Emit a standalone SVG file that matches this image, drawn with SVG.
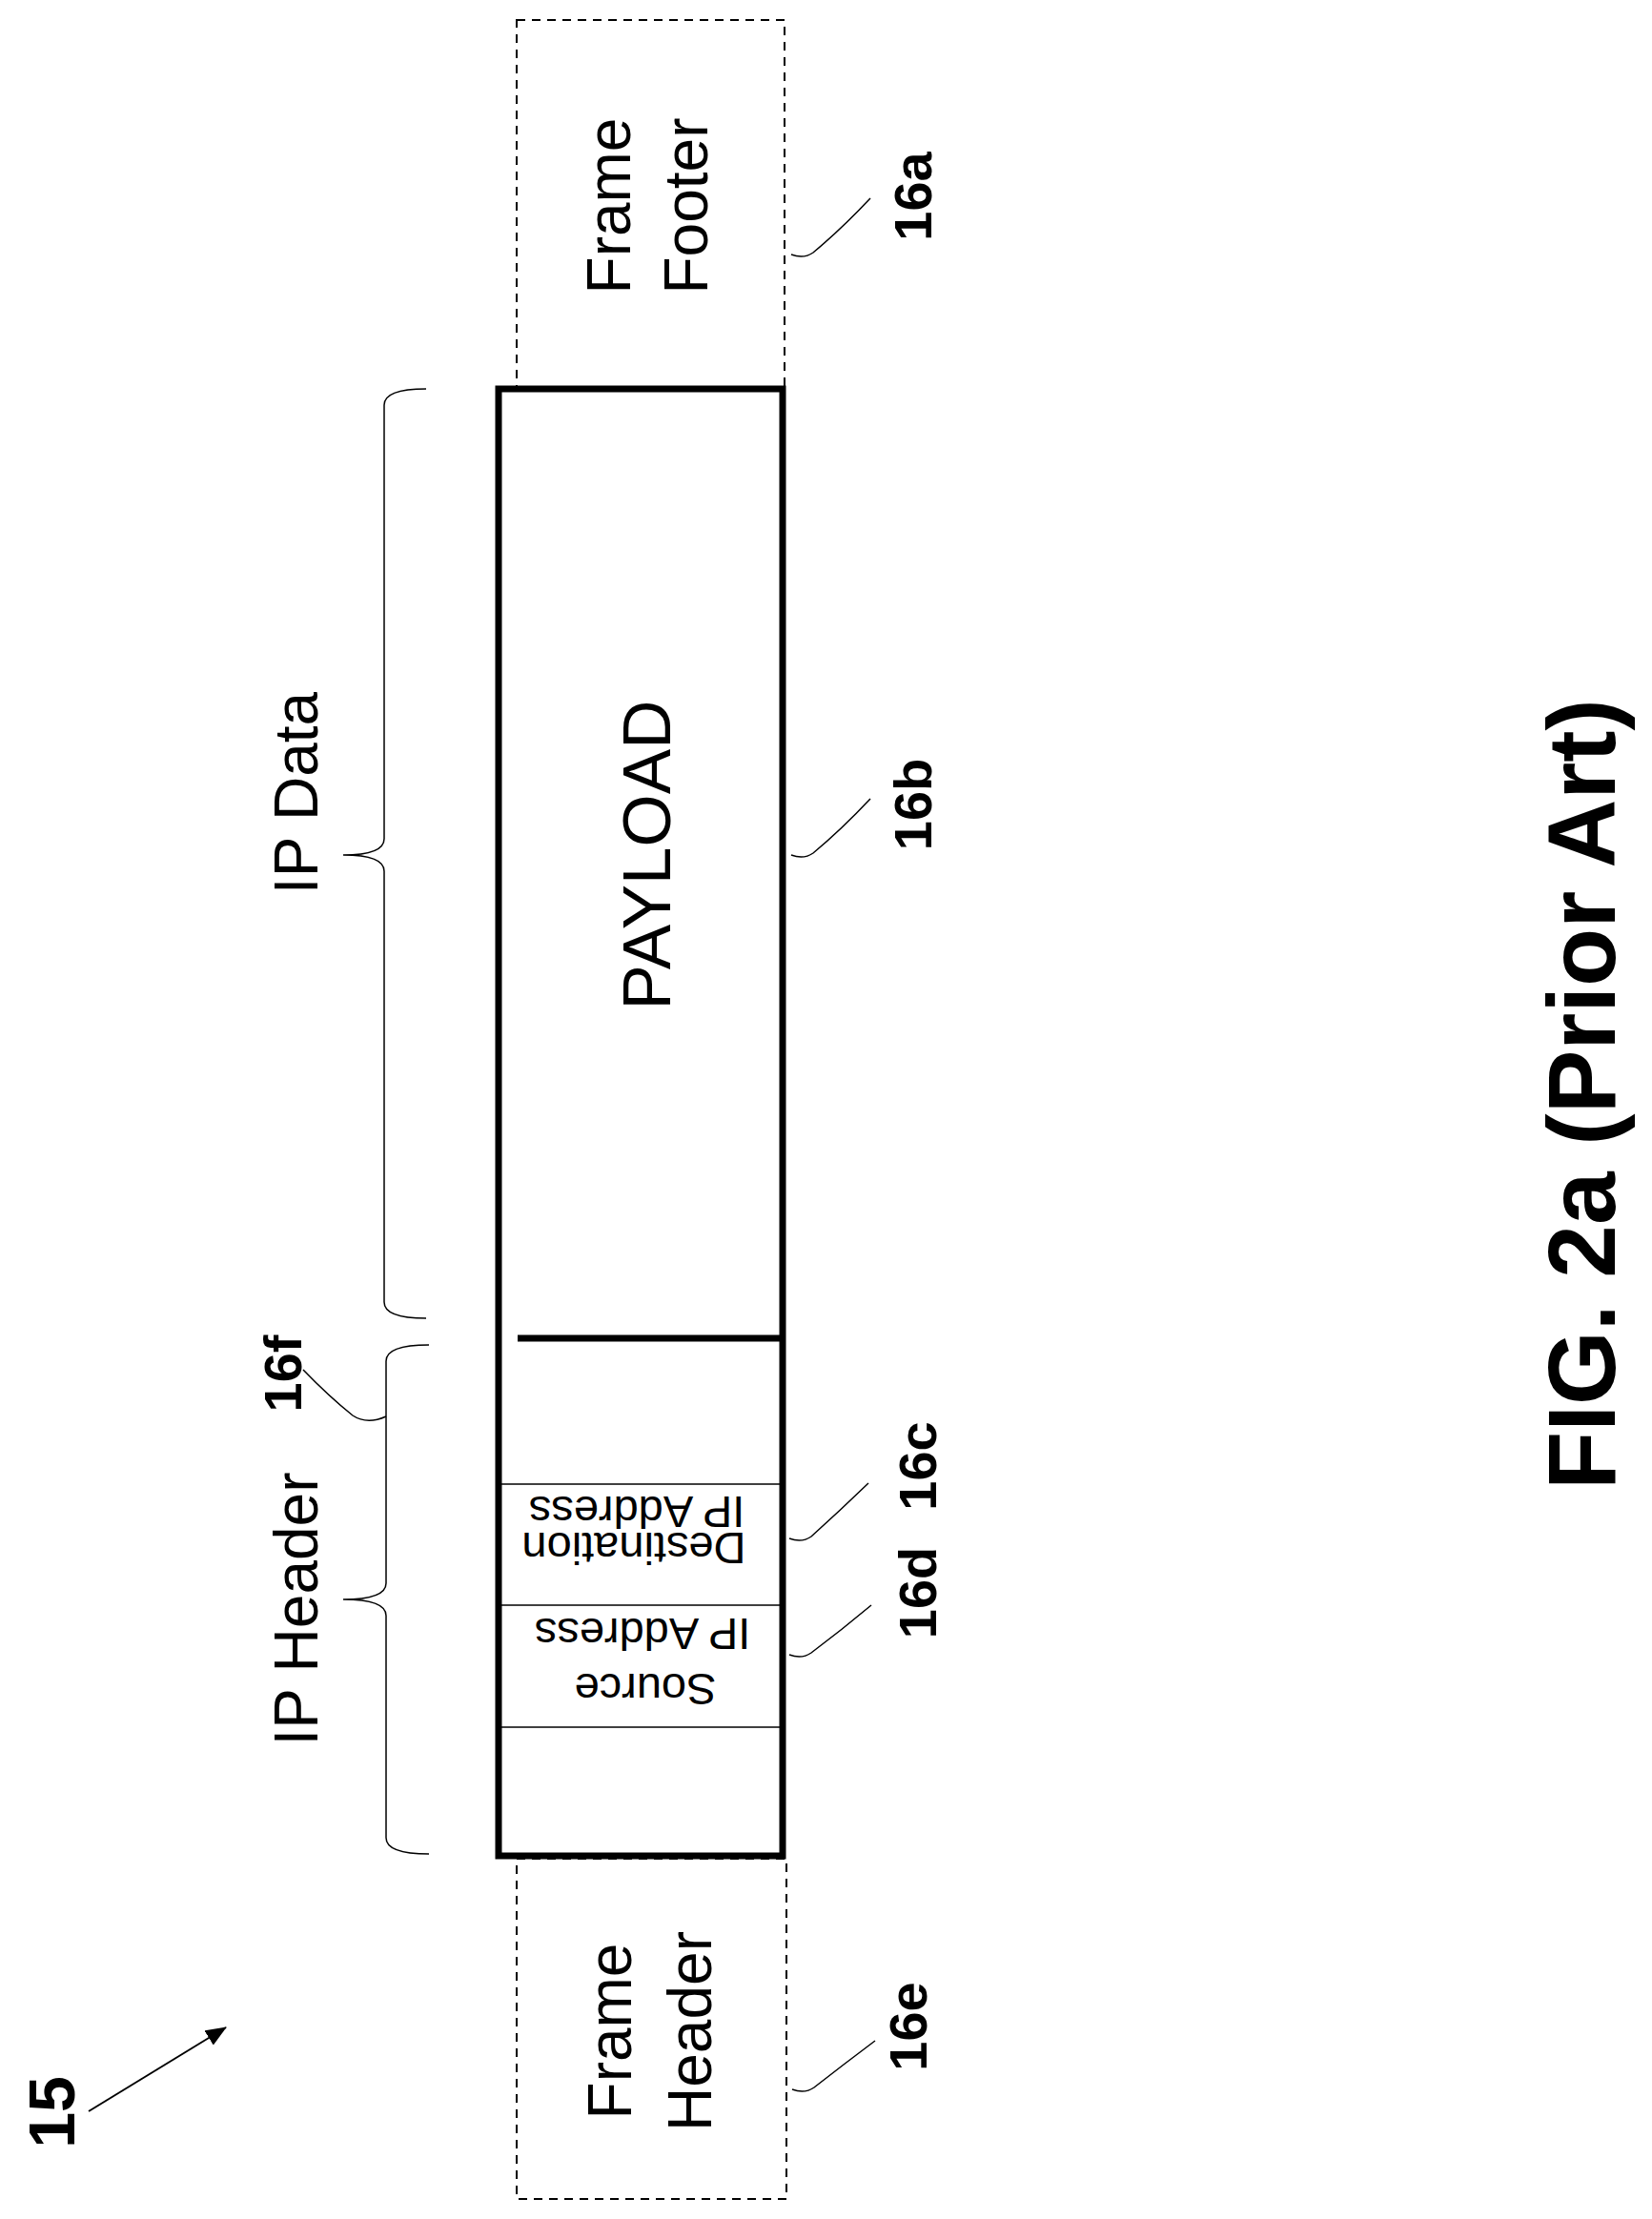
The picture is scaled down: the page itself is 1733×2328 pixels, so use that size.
<svg xmlns="http://www.w3.org/2000/svg" width="1733" height="2328" viewBox="0 0 1733 2328">
<style>
.t{font-family:"Liberation Sans",Arial,sans-serif;font-size:64px;fill:#000}
.s{font-family:"Liberation Sans",Arial,sans-serif;font-size:47px;fill:#000}
.b{font-family:"Liberation Sans",Arial,sans-serif;font-size:56px;font-weight:bold;fill:#000}
.dash{fill:none;stroke:#000;stroke-width:2;stroke-dasharray:9 7}
.thin{fill:none;stroke:#000;stroke-width:1.5}
</style>
<defs><marker id="ah" markerWidth="22" markerHeight="18" refX="21" refY="9" orient="auto" markerUnits="userSpaceOnUse" viewBox="0 0 22 18"><path d="M0,0 L22,9 L0,18 z" fill="#000"/></marker></defs>
<rect width="1733" height="2328" fill="#fff"/>
<g id="frame-footer">
<rect class="dash" x="542" y="21" width="281" height="387"/>
<text class="t" transform="translate(661,216) rotate(-90)" text-anchor="middle">Frame</text>
<text class="t" transform="translate(742,216) rotate(-90)" text-anchor="middle">Footer</text>
</g>
<g id="frame-header">
<rect class="dash" x="542" y="1950" width="283" height="357"/>
<text class="t" transform="translate(662,2131) rotate(-90)" text-anchor="middle">Frame</text>
<text class="t" transform="translate(746,2131) rotate(-90)" text-anchor="middle">Header</text>
</g>
<g id="packet">
<rect x="523" y="408" width="298" height="1539" fill="none" stroke="#000" stroke-width="7"/>
<line x1="543" y1="1404" x2="821" y2="1404" stroke="#000" stroke-width="7"/>
<line class="thin" x1="523" y1="1557" x2="821" y2="1557"/>
<line class="thin" x1="523" y1="1684" x2="821" y2="1684"/>
<line class="thin" x1="523" y1="1812" x2="821" y2="1812"/>
<text class="t" style="font-size:71px" transform="translate(703,897) rotate(-90)" text-anchor="middle">PAYLOAD</text>
<text class="s" transform="translate(668,1570) rotate(180)" text-anchor="middle">IP Address</text>
<text class="s" transform="translate(665,1608) rotate(180)" text-anchor="middle">Destination</text>
<text class="s" transform="translate(674,1698) rotate(180)" text-anchor="middle">IP Address</text>
<text class="s" transform="translate(677,1756) rotate(180)" text-anchor="middle">Source</text>
</g>
<g id="ip-data">
<path class="thin" d="M447,408 Q403,408 403,425 L403,880 Q403,897 360,897 Q403,897 403,914 L403,1366 Q403,1383 447,1383"/>
<text class="t" transform="translate(333,832) rotate(-90)" text-anchor="middle">IP Data</text>
</g>
<g id="ip-header">
<path class="thin" d="M450,1411 Q405,1411 405,1428 L405,1661 Q405,1678 360,1678 Q405,1678 405,1695 L405,1928 Q405,1945 450,1945"/>
<text class="t" transform="translate(333,1688) rotate(-90)" text-anchor="middle">IP Header</text>
</g>
<g id="connectors">
<path class="thin" d="M405,1486 Q385,1495 370,1485 Q345,1465 318,1437"/>
<path class="thin" d="M830,267 Q843,272 853,265 Q883,240 913,208"/>
<path class="thin" d="M830,897 Q843,902 853,895 Q883,870 913,838"/>
<path class="thin" d="M828,1614 Q841,1619 851,1612 Q881,1585 911,1556"/>
<path class="thin" d="M828,1736 Q841,1741 851,1734 Q883,1710 914,1684"/>
<path class="thin" d="M831,2192 Q844,2197 854,2190 Q886,2165 918,2141"/>
<line x1="93" y1="2215" x2="237" y2="2127" stroke="#000" stroke-width="2" marker-end="url(#ah)"/>
</g>
<g id="labels">
<text class="b" transform="translate(316,1441) rotate(-90)" text-anchor="middle">16f</text>
<text class="b" transform="translate(977,206) rotate(-90)" text-anchor="middle">16a</text>
<text class="b" transform="translate(977,844) rotate(-90)" text-anchor="middle">16b</text>
<text class="b" transform="translate(982,1538) rotate(-90)" text-anchor="middle">16c</text>
<text class="b" transform="translate(982,1671) rotate(-90)" text-anchor="middle">16d</text>
<text class="b" transform="translate(972,2126) rotate(-90)" text-anchor="middle">16e</text>
<text class="b" style="font-size:68px" transform="translate(78,2216) rotate(-90)" text-anchor="middle">15</text>
<text class="b" style="font-size:100px" transform="translate(1694,1148) rotate(-90)" text-anchor="middle">FIG. 2a (Prior Art)</text>
</g>
</svg>
